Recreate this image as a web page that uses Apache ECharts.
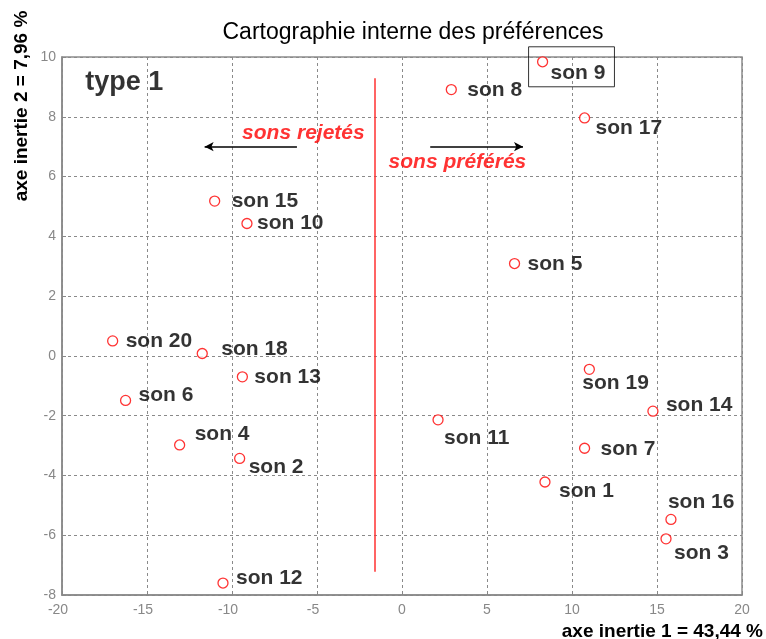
<!DOCTYPE html>
<html>
<head>
<meta charset="utf-8">
<script src="https://cdn.jsdelivr.net/npm/echarts@6/dist/echarts.min.js"></script>
<style>
  html, body { margin: 0; padding: 0; background: #fff; }
  #chart { width: 766px; height: 639px; }
</style>
</head>
<body>
<div id="chart"></div>
<script>
// Coordinates of the 20 sounds on the first two inertia axes
const sonNames = ['son 1','son 2','son 3','son 4','son 5','son 6','son 7','son 8','son 9','son 10',
                  'son 11','son 12','son 13','son 14','son 15','son 16','son 17','son 18','son 19','son 20'];
const axe1 = [8.41, -9.55, 15.53, -13.08, 6.62, -16.26, 10.74, 2.90, 8.27, -9.12,
              2.12, -10.53, -9.39, 14.76, -11.02, 15.82, 10.74, -11.75, 11.02, -17.02];
const axe2 = [-4.22, -3.43, -6.12, -2.98, 3.09, -1.49, -3.09, 8.91, 9.84, 4.43,
              -2.14, -7.60, -0.70, -1.85, 5.18, -5.47, 7.96, 0.08, -0.45, 0.50];

// Axis ranges and tick steps
const xRange = [-20, 20], xStep = 5;
const yRange = [-8, 10], yStep = 2;

// Separation line between rejected and preferred sounds
const separation = { x: -1.63, yTop: 9.29, yBottom: -7.22 };
// Direction arrows [from, to]
const arrowRejetes = [[-6.18, 7.0], [-11.61, 7.0]];
const arrowPreferes = [[1.66, 7.0], [7.12, 7.0]];
// Text annotations anchored in data space
const noteType = { text: 'type 1', at: [-18.63, 9.16] };
const noteRejetes = { text: 'sons rejetés', at: [-5.8, 7.45] };
const notePreferes = { text: 'sons préférés', at: [3.26, 6.47] };
const boxedSon = 'son 9';

// Label placement (pixels from marker centre: text start, text middle)
const labelShift = {
  'son 1': [14, 9], 'son 2': [9, 9], 'son 3': [8, 14], 'son 4': [15, -11], 'son 5': [13, 1],
  'son 6': [13, -5], 'son 7': [16, 1], 'son 8': [16, 1], 'son 10': [10, 0],
  'son 11': [6, 18], 'son 12': [13, -5], 'son 13': [12, 0], 'son 14': [13, -6], 'son 15': [17, 0],
  'son 16': [-3, -17], 'son 17': [11, 10], 'son 18': [19, -4], 'son 19': [-7, 14], 'son 20': [13, 0]
};

const FONT = "'Liberation Sans', Arial, sans-serif";
const labelBase = {
  show: true, position: 'inside', align: 'left', verticalAlign: 'middle',
  color: '#000', fontFamily: FONT, fontWeight: 'bold', fontSize: 21, lineHeight: 20
};

const points = sonNames.map((name, i) => {
  const item = { name: name, value: [axe1[i], axe2[i]] };
  if (name === boxedSon) {
    // framed label: the frame also encloses the marker
    item.label = Object.assign({}, labelBase, {
      formatter: name, verticalAlign: 'top', offset: [-14, -15],
      borderColor: '#000', borderWidth: 1, padding: [16, 9, 4, 22]
    });
  } else {
    item.label = Object.assign({}, labelBase, { formatter: name, offset: labelShift[name] });
  }
  return item;
});

function noteLabel(note, align, color, size, italic) {
  return {
    value: note.at,
    label: {
      show: true, position: 'inside', align: align, verticalAlign: 'middle',
      formatter: note.text, color: color, fontFamily: FONT, fontWeight: 'bold',
      fontStyle: italic ? 'italic' : 'normal', fontSize: size
    }
  };
}

const chart = echarts.init(document.getElementById('chart'), null, { renderer: 'canvas' });

const gridLine = { show: true, lineStyle: { color: '#8a8a8a', type: [3, 3], width: 1 } };
const tickLabel = { color: '#888', fontFamily: FONT, fontSize: 14 };

chart.setOption({
  animation: false,
  backgroundColor: '#fff',
  grid: { left: 62, right: 24, top: 57, bottom: 44, show: true, borderColor: '#8c8c8c', borderWidth: 1.5, backgroundColor: 'transparent' },
  xAxis: {
    type: 'value', min: xRange[0], max: xRange[1], interval: xStep,
    axisLine: { show: true, onZero: false, lineStyle: { color: '#888', width: 1.5 } },
    axisTick: { show: true, inside: true, length: 4, lineStyle: { color: '#888' } },
    axisLabel: Object.assign({
      margin: 8,
      // negative values are centred on their digits, the minus sign hangs to the left
      formatter: v => (v < 0 ? '{neg|' + v + '}' : String(v)),
      rich: { neg: { padding: [0, 8, 0, 0] } }
    }, tickLabel),
    splitLine: gridLine
  },
  yAxis: {
    type: 'value', min: yRange[0], max: yRange[1], interval: yStep,
    axisLine: { show: true, onZero: false, lineStyle: { color: '#888', width: 1.5 } },
    axisTick: { show: true, inside: true, length: 4, lineStyle: { color: '#888' } },
    axisLabel: Object.assign({ margin: 6 }, tickLabel),
    splitLine: gridLine
  },
  graphic: [
    { type: 'text', x: 413, y: 33, silent: true,
      style: { text: 'Cartographie interne des préférences', align: 'center', verticalAlign: 'middle',
               fill: '#000', font: "23px " + FONT } },
    { type: 'text', x: 22, y: 106, rotation: Math.PI / 2, silent: true,
      style: { text: 'axe inertie 2 = 7,96 %', align: 'center', verticalAlign: 'middle',
               fill: '#000', font: "bold 19px " + FONT } },
    { type: 'text', x: 763, y: 632, silent: true,
      style: { text: 'axe inertie 1 = 43,44 %', align: 'right', verticalAlign: 'middle',
               fill: '#000', font: "bold 19px " + FONT } }
  ],
  series: [
    {
      name: 'repères', type: 'line', data: [], silent: true,
      markLine: {
        silent: true, animation: false, label: { show: false },
        data: [
          [{ coord: [separation.x, separation.yTop], symbol: 'none', lineStyle: { color: '#ff3030', width: 1.5, type: 'solid' } },
           { coord: [separation.x, separation.yBottom], symbol: 'none' }],
          [{ coord: arrowRejetes[0], symbol: 'none', lineStyle: { color: '#000', width: 1.5, type: 'solid' } },
           { coord: arrowRejetes[1], symbol: 'arrow', symbolSize: [7, 9] }],
          [{ coord: arrowPreferes[0], symbol: 'none', lineStyle: { color: '#000', width: 1.5, type: 'solid' } },
           { coord: arrowPreferes[1], symbol: 'arrow', symbolSize: [7, 9] }]
        ]
      }
    },
    {
      name: 'annotations', type: 'scatter', symbolSize: 0, silent: true, z: 4,
      data: [
        noteLabel(noteType, 'left', '#000', 27, false),
        noteLabel(noteRejetes, 'center', '#ff0000', 21, true),
        noteLabel(notePreferes, 'center', '#ff0000', 21, true)
      ]
    },
    {
      name: 'sons', type: 'scatter', symbol: 'circle', symbolSize: 10, z: 5,
      itemStyle: { color: '#fff', borderColor: '#ff0000', borderWidth: 1.3 },
      data: points
    }
  ]
});
</script>
</body>
</html>
